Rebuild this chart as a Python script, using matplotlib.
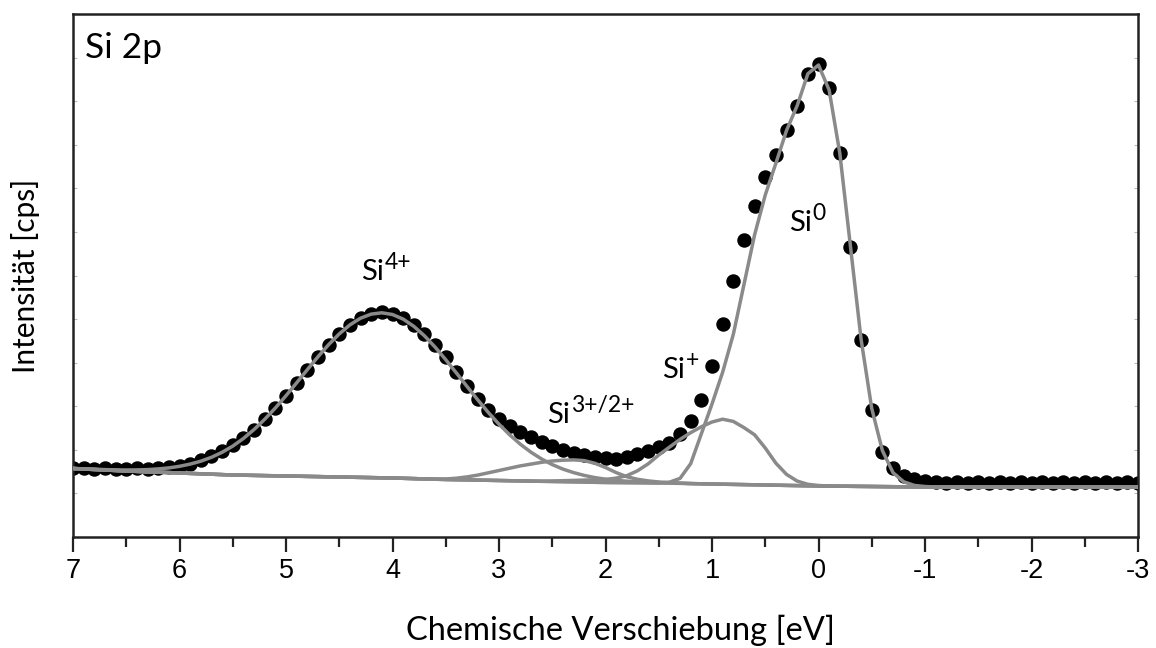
import numpy as np
import matplotlib
matplotlib.use("Agg")
import matplotlib.pyplot as plt
from matplotlib.ticker import FixedLocator, NullFormatter

# ---------------- data ----------------
energy = np.linspace(7.0, -3.0, 101)  # binding-energy shift grid, 0.1 eV steps

measured = [
    69, 69, 68, 69, 68, 68, 69, 68, 69, 70,          # 7.0 .. 6.1
    71, 73, 77, 81, 86, 92, 99, 107, 118, 129,       # 6.0 .. 5.1
    141, 154, 167, 180, 192, 203, 212, 219, 223, 225,  # 5.0 .. 4.1
    223, 219, 212, 203, 192, 180, 165, 151, 138, 127,  # 4.0 .. 3.1
    118, 111, 105, 100, 95, 91, 87, 84, 82, 80,      # 3.0 .. 2.1
    79, 78, 80, 83, 86, 90, 94, 103, 116, 137,       # 2.0 .. 1.1
    171, 213, 256, 297, 331, 360, 382, 407, 431, 463,  # 1.0 .. 0.1
    473, 449, 384, 290, 197, 127, 85, 69, 61, 58,    # 0.0 .. -0.9
    56, 55, 54, 55, 54, 55, 54, 55, 54, 55,          # -1.0 .. -1.9
    54, 55, 54, 55, 54, 55, 54, 55, 54, 55, 54,      # -2.0 .. -3.0
]

background = [
    68.5, 68.0, 67.5, 67.0, 66.5, 66.0, 65.6, 65.2, 64.8, 64.4,
    64.0, 63.6, 63.2, 62.8, 62.4, 62.0, 61.8, 61.6, 61.4, 61.2,
    61.0, 60.8, 60.6, 60.4, 60.2, 60.0, 59.8, 59.6, 59.4, 59.2,
    59.0, 58.7, 58.4, 58.1, 57.8, 57.5, 57.3, 57.1, 56.9, 56.7,
    56.5, 56.3, 56.1, 55.9, 55.7, 55.5, 55.3, 55.1, 54.9, 54.7,
    54.5, 54.4, 54.3, 54.2, 54.1, 54.0, 53.8, 53.6, 53.4, 53.2,
    53.0, 52.8, 52.6, 52.4, 52.2, 52.0, 51.8, 51.6, 51.4, 51.2,
    51.0, 50.9, 50.8, 50.7, 50.6, 50.5, 50.4, 50.3, 50.2, 50.1,
    50.0, 50.0, 50.0, 50.0, 50.0, 50.0, 50.0, 50.0, 50.0, 50.0,
    50.0, 50.0, 50.0, 50.0, 50.0, 50.0, 50.0, 50.0, 50.0, 50.0, 50.0,
]

# component intensities above background
si4_peak = [
    0.1, 0.2, 0.3, 0.4, 0.6, 1.0, 1.5, 2.2, 3.3, 4.7,
    6.7, 9.3, 12.6, 16.9, 22.3, 28.9, 36.7, 45.9, 56.3, 67.8,
    80.3, 93.4, 106.7, 119.8, 132.1, 143.1, 152.3, 159.2, 163.5, 165.0,
    163.5, 159.2, 152.3, 143.1, 132.1, 119.8, 106.7, 93.4, 80.3, 67.8,
    56.3, 45.9, 36.7, 28.9, 22.3, 16.9, 12.6, 9.3, 6.7, 4.7,
    3.3, 2.2, 1.5, 1.0, 0.6, 0.4, 0.3, 0.2, 0.1, 0,
    0, 0, 0, 0, 0, 0, 0, 0, 0, 0,
    0, 0, 0, 0, 0, 0, 0, 0, 0, 0,
    0, 0, 0, 0, 0, 0, 0, 0, 0, 0,
    0, 0, 0, 0, 0, 0, 0, 0, 0, 0, 0,
]

si32_peak = [
    0, 0, 0, 0, 0, 0, 0, 0, 0, 0,
    0, 0, 0, 0, 0, 0, 0, 0, 0, 0,
    0, 0, 0, 0, 0, 0, 0, 0, 0, 0,
    0, 0, 0, 0, 0, 0.5, 1.5, 3.0, 5.0, 7.5,
    10.0, 12.5, 15.0, 17.0, 19.0, 20.5, 21.5, 22.0, 21.5, 19.0,
    15.0, 10.0, 6.0, 3.5, 2.0, 1.0, 0.5, 0.2, 0, 0,
    0, 0, 0, 0, 0, 0, 0, 0, 0, 0,
    0, 0, 0, 0, 0, 0, 0, 0, 0, 0,
    0, 0, 0, 0, 0, 0, 0, 0, 0, 0,
    0, 0, 0, 0, 0, 0, 0, 0, 0, 0, 0,
]

si1_peak = [
    0, 0, 0, 0, 0, 0, 0, 0, 0, 0,
    0, 0, 0, 0, 0, 0, 0, 0, 0, 0,
    0, 0, 0, 0, 0, 0, 0, 0, 0, 0,
    0, 0, 0, 0, 0, 0, 0, 0, 0, 0,
    0, 0, 0, 0, 0, 0.5, 1.0, 1.5, 2.0, 2.5,
    3.0, 4.5, 7.0, 12.0, 19.0, 28.0, 36.0, 44.0, 51.0, 57.0,
    62.0, 65.0, 63.0, 57.0, 50.0, 37.0, 22.0, 11.0, 4.5, 1.5,
    0.5, 0, 0, 0, 0, 0, 0, 0, 0, 0,
    0, 0, 0, 0, 0, 0, 0, 0, 0, 0,
    0, 0, 0, 0, 0, 0, 0, 0, 0, 0, 0,
]

si0_peak = [
    0, 0, 0, 0, 0, 0, 0, 0, 0, 0,
    0, 0, 0, 0, 0, 0, 0, 0, 0, 0,
    0, 0, 0, 0, 0, 0, 0, 0, 0, 0,
    0, 0, 0, 0, 0, 0, 0, 0, 0, 0,
    0, 0, 0, 0, 0, 0, 0, 0, 0, 0,
    0, 0, 0, 0, 0, 0, 1.0, 5.0, 20.0, 50.0,
    80.0, 112.0, 150.0, 200.0, 250.0, 290.0, 322.0, 355.0, 380.0, 412.0,
    421.0, 396.0, 333.0, 240.0, 147.0, 78.0, 36.0, 14.0, 5.0, 1.5,
    0.5, 0, 0, 0, 0, 0, 0, 0, 0, 0,
    0, 0, 0, 0, 0, 0, 0, 0, 0, 0, 0,
]

x_ticks = [7, 6, 5, 4, 3, 2, 1, 0, -1, -2, -3]
x_tick_labels = ["7", "6", "5", "4", "3", "2", "1", "0", "-1", "-2", "-3"]

peak_label_base = ["Si", "Si", "Si", "Si"]
peak_label_sup = ["4+", "3+/2+", "+", "0"]
peak_label_x = [4.30, 2.55, 1.47, 0.28]   # left edge of label
peak_label_y = [257, 114, 159, 306]       # baseline

# ---------------- style ----------------
W, H = 1156, 648
fig = plt.figure(figsize=(W / 100, H / 100), dpi=100)
ax = fig.add_axes([73 / W, 1 - 537 / H, (1138 - 73) / W, (537 - 14) / H])

bg = np.array(background)
line_col = "#8a8a8a"

ax.plot(energy, measured, "o", color="black", ms=9.4, mec="black", zorder=2)
ax.plot(energy, bg, color="#a6a6a6", lw=2.5, zorder=3)
for comp in (si32_peak, si1_peak, si4_peak, si0_peak):
    ax.plot(energy, bg + np.array(comp), color=line_col, lw=2.5, zorder=4,
            solid_joinstyle="round")

ax.set_xlim(7, -3)
ax.set_ylim(0, 523)

ax.xaxis.set_major_locator(FixedLocator(x_ticks))
ax.set_xticklabels(x_tick_labels)
ax.xaxis.set_minor_locator(FixedLocator(np.arange(-2.5, 7, 1.0)))
ax.tick_params(axis="x", which="major", direction="out", length=11, width=1.6,
               color="#222222", pad=4, labelsize=19.5)
ax.tick_params(axis="x", which="minor", direction="out", length=7, width=1.6,
               color="#222222")
for lab in ax.get_xticklabels():
    lab.set_fontfamily("Liberation Sans")

ax.yaxis.set_major_locator(FixedLocator(np.linspace(0, 523, 13)))
ax.yaxis.set_major_formatter(NullFormatter())
ax.tick_params(axis="y", which="major", direction="in", length=3, width=0.8,
               color="#bbbbbb", left=True, right=True)
ax.tick_params(axis="x", which="both", top=False)

for s in ax.spines.values():
    s.set_linewidth(1.8)
    s.set_color("#222222")

ax.set_xlabel("Chemische Verschiebung [eV]", fontfamily="Lato", fontsize=23.5,
              labelpad=22)
ax.xaxis.label.set_x((620 - 73) / (1138 - 73))
ax.set_ylabel("Intensität [cps]", fontfamily="Lato", fontsize=21.5, labelpad=20)

ax.text(0.011, 0.965, "Si 2p", transform=ax.transAxes, fontfamily="Lato",
        fontsize=25.5, ha="left", va="top")

fig.canvas.draw()
renderer = fig.canvas.get_renderer()
for base, sup, xx, yy in zip(peak_label_base, peak_label_sup,
                             peak_label_x, peak_label_y):
    t = ax.text(xx, yy, base, fontfamily="Lato", fontsize=21, ha="left",
                va="baseline", zorder=5)
    bb = t.get_window_extent(renderer=renderer)
    ax.annotate(sup, xy=(xx, yy), xycoords="data",
                xytext=(bb.width * 72 / 100 + 0.8, 7.8),
                textcoords="offset points", fontfamily="Lato", fontsize=16.5,
                ha="left", va="baseline", zorder=5)

fig.savefig("out.png", dpi=100, facecolor="white")
